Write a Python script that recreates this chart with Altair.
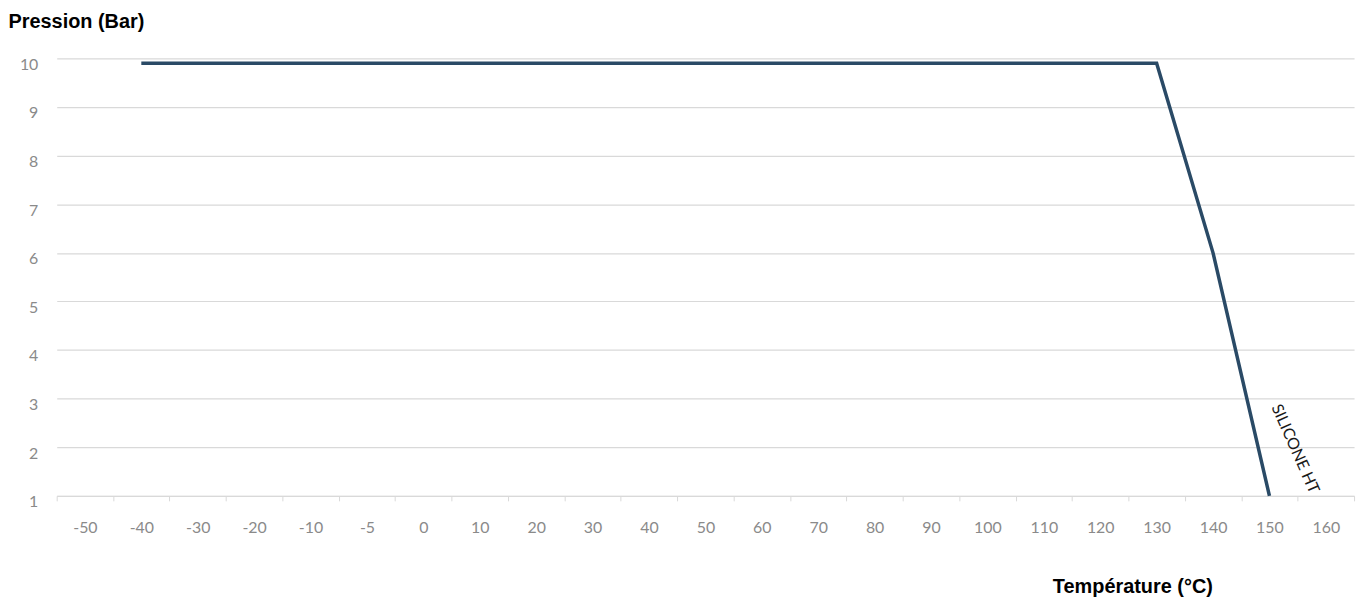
import altair as alt
import pandas as pd

# Categories on the x axis (temperature, °C)
categories = ["-50", "-40", "-30", "-20", "-10", "-5", "0", "10", "20", "30", "40",
              "50", "60", "70", "80", "90", "100", "110", "120", "130", "140", "150", "160"]

# Series: SILICONE HT pressure (bar)
line_temps = ["-40", "-30", "-20", "-10", "-5", "0", "10", "20", "30", "40",
              "50", "60", "70", "80", "90", "100", "110", "120", "130", "140", "150"]
line_press = [9.9, 9.9, 9.9, 9.9, 9.9, 9.9, 9.9, 9.9, 9.9, 9.9,
              9.9, 9.9, 9.9, 9.9, 9.9, 9.9, 9.9, 9.9, 9.9, 6.0, 1.0]

y_ticks = [1, 2, 3, 4, 5, 6, 7, 8, 9, 10]

label_text = ["SILICONE HT"]
label_temp = ["150"]
label_press = [2.0]

df = pd.DataFrame({"temp": line_temps, "press": line_press})
df_lab = pd.DataFrame({"temp": label_temp, "press": label_press, "txt": label_text})

xscale = alt.Scale(type="band", domain=categories, paddingInner=0, paddingOuter=0)
yscale = alt.Scale(domain=[1, 10], nice=False, zero=False)

xaxis = alt.Axis(
    title="Température (°C)", titleFont="Liberation Sans", titleFontSize=20,
    titleFontWeight="bold", titleColor="#000000", titleAlign="center",
    titleBaseline="alphabetic", titleX=1082, titleY=97, titleAngle=0,
    labelFont="Lato", labelFontSize=16, labelColor="#8a8a8a", labelAngle=0,
    labelPadding=19, labelBaseline="top",
    domainColor="#d9d9d9", tickColor="#d9d9d9", tickSize=5, tickBand="extent",
    grid=False,
)
yaxis = alt.Axis(
    title="Pression (Bar)", titleFont="Liberation Sans", titleFontSize=20,
    titleFontWeight="bold", titleColor="#000000", titleAngle=0, titleAlign="left",
    titleBaseline="alphabetic", titleX=-49, titleY=-31,
    values=y_ticks, labelFont="Lato", labelFontSize=16, labelColor="#8a8a8a",
    labelPadding=19, labelOffset=6,
    domain=False, ticks=False, grid=True, gridColor="#d9d9d9", gridWidth=1.2,
)

line = alt.Chart(df).mark_line(color="#2a4a66", strokeWidth=3.5).encode(
    x=alt.X("temp:N", sort=categories, scale=xscale, axis=xaxis, bandPosition=0.5),
    y=alt.Y("press:Q", scale=yscale, axis=yaxis),
)

label = alt.Chart(df_lab).mark_text(
    angle=66, align="center", baseline="middle", font="Lato", fontSize=16,
    color="#1a1a1a", dx=12, dy=-23,
).encode(
    x=alt.X("temp:N", sort=categories, scale=xscale, bandPosition=0.5),
    y=alt.Y("press:Q", scale=yscale),
    text="txt:N",
)

chart = alt.layer(line, label).properties(
    width=1305, height=440,
    autosize=alt.AutoSizeParams(type="none"),
    padding={"left": 49, "top": 49, "right": 9, "bottom": 100},
).configure_view(stroke=None)

chart.save("out.html", embed_options={"renderer": "svg", "actions": False})
